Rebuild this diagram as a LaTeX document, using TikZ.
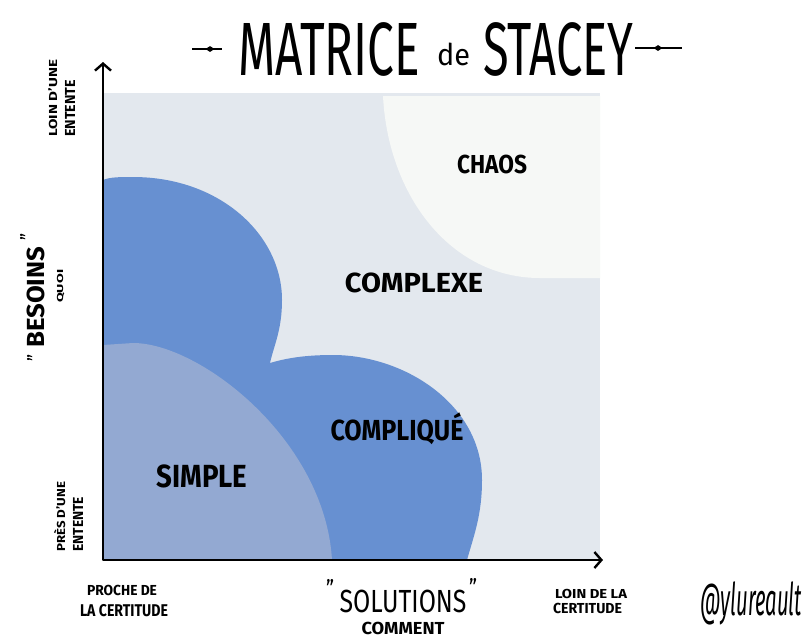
\documentclass[tikz,border=0pt]{standalone}
\usepackage{fontspec}
\setmainfont{Fira Sans}
\usetikzlibrary{arrows.meta,shapes.geometric}
\definecolor{panel}{HTML}{E3E8EE}
\definecolor{darkblue}{HTML}{6790D1}
\definecolor{lightblue}{HTML}{93A9D2}
\definecolor{chaoscol}{HTML}{F6F8F6}
\newcommand{\fitlbl}[3]{\resizebox{#2}{\height}{\fontsize{#1}{#1}\selectfont #3}}
\begin{document}
\begin{tikzpicture}[x=1pt,y=-1pt,
  lbl/.style={inner sep=0pt, anchor=base, font=\bfseries},
  rlbl/.style={inner sep=0pt, anchor=base west, rotate=90, font=\bfseries},
  axisline/.style={line width=2.6pt, line join=round,
    {Straight Barb[length=7pt,width=16pt,line width=2.4pt]}-{Straight Barb[length=7pt,width=16pt,line width=2.4pt]}},
  deco/.style={line width=1.6pt},
  dmd/.style={diamond, fill=black, inner sep=0pt, minimum width=9pt, minimum height=6pt}]
\useasboundingbox (0,0) rectangle (808,641);
\fill[white] (0,0) rectangle (808,641);
% panel and regions
\fill[panel] (103,93) rectangle (600,560);
\fill[chaoscol] (383,96) .. controls (388,195) and (450,278) .. (540,278) -- (600,278) -- (600,96) -- cycle;
\fill[darkblue] (103,180) .. controls (110,177) and (120,177) .. (133,177)
  .. controls (220,177) and (282,235) .. (282,300)
  .. controls (282,330) and (274,345) .. (270,363)
  .. controls (290,357) and (310,355) .. (333,355)
  .. controls (405,355) and (482,405) .. (482,480)
  .. controls (482,515) and (474,535) .. (467,560)
  -- (103,560) -- cycle;
\fill[lightblue] (103,345) -- (133,343) .. controls (200,343) and (325,440) .. (332,560) -- (103,560) -- cycle;
% axes
\coordinate (ytip) at (103,62);
\coordinate (O) at (103,560);
\coordinate (xtip) at (603,560);
\draw[axisline] (ytip) -- (O) -- (xtip);
% title
\node[lbl, font=\mdseries] (t1) at (329,75) {\fitlbl{75.5pt}{182pt}{MATRICE}};
\node[lbl, font=\mdseries] (t2) at (453.5,65) {\fitlbl{30pt}{33pt}{de}};
\node[lbl, font=\mdseries] (t3) at (558,75) {\fitlbl{75.5pt}{150pt}{STACEY}};
\coordinate (dl1) at (192,49); \coordinate (dl2) at (222,49);
\coordinate (dr1) at (635,48); \coordinate (dr2) at (682,48);
\draw[deco] (dl1) -- (dl2);
\draw[deco] (dr1) -- (dr2);
\node[dmd] (dl) at (210,49) {};
\node[dmd] (dr) at (658,48) {};
% region labels
\node[lbl] (chaos) at (492,173) {\fitlbl{26pt}{70pt}{CHAOS}};
\node[lbl] (complexe) at (414,292) {\fitlbl{27.6pt}{138pt}{COMPLEXE}};
\node[lbl] (complique) at (397,440) {\fitlbl{29pt}{133pt}{COMPLIQUÉ}};
\node[lbl] (simple) at (202,487) {\fitlbl{32pt}{91pt}{SIMPLE}};
% x axis labels
\node[lbl, font=\mdseries] (sol) at (403,612) {\fitlbl{32pt}{127pt}{SOLUTIONS}};
\node[lbl, font=\mdseries] (q1) at (330,597) {\fitlbl{24pt}{8pt}{"}};
\node[lbl, font=\mdseries] (q2) at (473,596) {\fitlbl{24pt}{8pt}{"}};
\node[lbl] (comment) at (403,634) {\fitlbl{17.4pt}{83pt}{COMMENT}};
\node[lbl] (proche1) at (122,595) {\fitlbl{14.5pt}{70pt}{PROCHE DE}};
\node[lbl] (proche2) at (124,616) {\fitlbl{17pt}{88pt}{LA CERTITUDE}};
\node[lbl] (loin1) at (591,598) {\fitlbl{13pt}{72pt}{LOIN DE LA}};
\node[lbl] (loin2) at (587.5,613) {\fitlbl{14.5pt}{69pt}{CERTITUDE}};
% y axis labels
\node[rlbl] (yl1) at (57,137) {\fitlbl{11.6pt}{77pt}{LOIN D’UNE}};
\node[rlbl] (yl2) at (75,137) {\fitlbl{14.5pt}{57pt}{ENTENTE}};
\node[rlbl] (bes) at (45,348) {\fitlbl{24.7pt}{101pt}{BESOINS}};
\node[rlbl, font=\mdseries] (bq1) at (42,362) {\fitlbl{20pt}{7pt}{"}};
\node[rlbl, font=\mdseries] (bq2) at (35,241) {\fitlbl{20pt}{7pt}{"}};
\node[rlbl] (quoi) at (63,303) {\fitlbl{8.7pt}{33pt}{QUOI}};
\node[rlbl] (yp1) at (65,552) {\fitlbl{11.6pt}{70pt}{PRÈS D’UNE}};
\node[rlbl] (yp2) at (83,552) {\fitlbl{14.5pt}{55pt}{ENTENTE}};
% signature
\node[lbl, font=\mdseries\itshape] (sig) at (751,615) {\fitlbl{45pt}{102pt}{@ylureault}};
\end{tikzpicture}
\end{document}
